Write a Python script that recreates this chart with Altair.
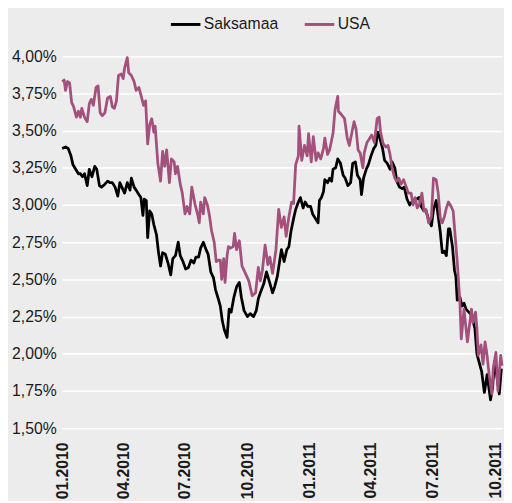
import altair as alt
import pandas as pd

# Days since 2010-01-01 and yields (%)
de_days = [0, 5, 9, 13, 16, 20, 24, 27, 30, 33, 37, 40, 44, 48, 51, 55, 58, 63, 67, 71,
           74, 78, 82, 85, 88, 92, 96, 100, 102, 106, 109, 113, 116, 119, 121, 124, 126, 129, 132, 135,
           139, 142, 145, 148, 152, 156, 160, 163, 167, 171, 174, 178, 182, 186, 190, 194, 197, 201, 204, 208,
           212, 215, 219, 223, 226, 230, 233, 236, 239, 243, 246, 249, 253, 257, 261, 264, 268, 273, 277, 282,
           286, 289, 292, 297, 301, 305, 310, 313, 317, 321, 323, 327, 331, 334, 337, 341, 344, 348, 351, 355,
           358, 362, 366, 369, 373, 377, 379, 382, 385, 387, 391, 394, 397, 399, 403, 406, 410, 414, 417, 421,
           425, 428, 432, 435, 439, 441, 444, 448, 451, 455, 459, 462, 465, 468, 472, 475, 479, 483, 486, 490,
           493, 497, 501, 504, 508, 512, 515, 519, 522, 526, 529, 533, 536, 540, 544, 547, 551, 553, 557, 560,
           563, 566, 569, 571, 575, 578, 580, 582, 586, 589, 592, 595, 599, 603, 608, 611, 615, 618, 622, 626,
           631, 634, 637, 640, 644, 647]
de_vals = [3.38, 3.39, 3.38, 3.33, 3.27, 3.24, 3.21, 3.21, 3.19, 3.21, 3.13, 3.24, 3.19, 3.26, 3.24, 3.13, 3.12, 3.14, 3.16, 3.15,
           3.15, 3.12, 3.06, 3.15, 3.12, 3.08, 3.15, 3.10, 3.18, 3.12, 3.10, 3.07, 3.05, 2.93, 3.04, 3.03, 2.78, 2.96, 2.94, 2.87,
           2.80, 2.68, 2.59, 2.68, 2.67, 2.61, 2.53, 2.64, 2.66, 2.75, 2.66, 2.62, 2.57, 2.58, 2.63, 2.61, 2.65, 2.65, 2.71, 2.75,
           2.70, 2.67, 2.55, 2.51, 2.43, 2.37, 2.32, 2.22, 2.16, 2.11, 2.30, 2.28, 2.38, 2.45, 2.48, 2.38, 2.29, 2.25, 2.27, 2.25,
           2.29, 2.37, 2.41, 2.47, 2.55, 2.49, 2.41, 2.45, 2.52, 2.64, 2.70, 2.62, 2.70, 2.72, 2.82, 2.91, 2.97, 3.02, 3.05, 2.98,
           3.02, 2.99, 2.99, 2.94, 2.91, 2.88, 3.03, 3.05, 3.09, 3.17, 3.15, 3.18, 3.16, 3.24, 3.25, 3.31, 3.28, 3.20, 3.18, 3.13,
           3.15, 3.28, 3.29, 3.20, 3.17, 3.07, 3.18, 3.24, 3.27, 3.33, 3.38, 3.40, 3.49, 3.45, 3.38, 3.30, 3.28, 3.24, 3.29, 3.25,
           3.16, 3.12, 3.11, 3.12, 3.04, 3.00, 3.02, 3.03, 3.04, 3.05, 2.99, 2.96, 2.96, 2.90, 2.86, 2.97, 3.03, 2.96, 2.82, 2.68,
           2.69, 2.66, 2.84, 2.84, 2.72, 2.56, 2.52, 2.36, 2.38, 2.32, 2.34, 2.30, 2.28, 2.26, 2.17, 2.00, 1.93, 1.88, 1.74, 1.86,
           1.69, 1.77, 1.95, 1.86, 1.73, 1.90]

us_days = [0, 3, 5, 8, 11, 14, 17, 21, 24, 27, 29, 33, 37, 40, 43, 46, 50, 53, 56, 59,
           63, 67, 71, 74, 77, 80, 83, 87, 90, 92, 96, 98, 102, 106, 109, 113, 116, 120, 123, 126,
           129, 132, 135, 137, 141, 145, 148, 151, 154, 158, 161, 165, 167, 170, 174, 177, 181, 184, 188, 191,
           196, 200, 202, 204, 208, 210, 214, 217, 220, 224, 227, 231, 233, 235, 238, 240, 243, 245, 248, 252,
           254, 257, 261, 265, 270, 275, 280, 285, 289, 292, 295, 299, 303, 306, 310, 315, 319, 323, 327, 330,
           334, 338, 341, 344, 348, 349, 353, 357, 361, 363, 367, 370, 374, 377, 381, 385, 387, 391, 394, 399,
           402, 406, 407, 411, 416, 420, 423, 427, 430, 433, 436, 439, 443, 445, 449, 452, 456, 460, 464, 467,
           469, 473, 477, 480, 483, 486, 490, 493, 496, 499, 503, 507, 510, 514, 517, 520, 523, 526, 530, 533,
           536, 540, 544, 547, 551, 554, 557, 560, 563, 566, 569, 573, 576, 579, 582, 586, 588, 592, 597, 600,
           603, 605, 609, 611, 613, 617, 620, 623, 626, 629, 633, 635, 639, 642, 646, 648]
us_vals = [3.83, 3.84, 3.77, 3.83, 3.82, 3.69, 3.66, 3.59, 3.63, 3.59, 3.65, 3.59, 3.56, 3.68, 3.71, 3.67, 3.79, 3.80, 3.62, 3.60,
           3.62, 3.72, 3.73, 3.66, 3.65, 3.70, 3.87, 3.88, 3.85, 3.92, 3.99, 3.89, 3.87, 3.83, 3.77, 3.79, 3.74, 3.67, 3.70, 3.41,
           3.54, 3.58, 3.49, 3.53, 3.28, 3.16, 3.36, 3.26, 3.37, 3.15, 3.31, 3.29, 3.21, 3.26, 3.14, 3.08, 2.94, 2.99, 2.94, 3.12,
           3.00, 2.93, 2.88, 3.02, 2.94, 3.05, 3.00, 2.93, 2.83, 2.75, 2.62, 2.63, 2.63, 2.50, 2.64, 2.48, 2.66, 2.72, 2.71, 2.72,
           2.81, 2.70, 2.76, 2.59, 2.54, 2.49, 2.39, 2.41, 2.58, 2.49, 2.56, 2.73, 2.60, 2.65, 2.54, 2.70, 2.97, 2.85, 2.92, 2.79,
           2.92, 3.02, 3.01, 3.27, 3.33, 3.53, 3.30, 3.40, 3.33, 3.48, 3.29, 3.46, 3.30, 3.35, 3.31, 3.38, 3.45, 3.34, 3.37, 3.48,
           3.64, 3.73, 3.63, 3.61, 3.58, 3.45, 3.40, 3.49, 3.56, 3.51, 3.37, 3.35, 3.25, 3.35, 3.42, 3.44, 3.47, 3.42, 3.58, 3.59,
           3.49, 3.41, 3.39, 3.40, 3.34, 3.25, 3.18, 3.16, 3.18, 3.14, 3.17, 3.12, 3.08, 3.08, 3.00, 3.05, 2.98, 3.00, 3.08, 2.96,
           2.97, 2.88, 2.92, 3.18, 3.17, 3.08, 2.91, 2.88, 2.92, 2.98, 3.02, 2.99, 2.96, 2.79, 2.62, 2.34, 2.10, 2.30, 2.08, 2.19,
           2.30, 2.21, 2.28, 2.17, 1.99, 2.06, 1.93, 2.08, 1.99, 1.86, 1.73, 1.90, 2.01, 1.75, 1.99, 1.92]

series_names = ["Saksamaa", "USA"]
series_colors = ["#000000", "#a4507d"]
y_ticks = [1.5, 1.75, 2.0, 2.25, 2.5, 2.75, 3.0, 3.25, 3.5, 3.75, 4.0]
x_ticks = ["2010-01-01", "2010-04-01", "2010-07-01", "2010-10-01",
           "2011-01-01", "2011-04-01", "2011-07-01", "2011-10-01"]

base = pd.Timestamp("2010-01-01")
rows = []
for name, days, vals in [("Saksamaa", de_days, de_vals), ("USA", us_days, us_vals)]:
    for d, v in zip(days, vals):
        rows.append({"date": (base + pd.Timedelta(days=d)).strftime("%Y-%m-%d"),
                     "value": v, "series": name})
df = pd.DataFrame(rows)

def dt(s):
    y, m, d = s.split("-")
    return alt.DateTime(year=int(y), month=int(m), date=int(d), utc=True)

FONT = "Liberation Sans"

chart = alt.Chart(df).mark_line(strokeWidth=2.8, strokeJoin="round").encode(
    x=alt.X("date:T",
            scale=alt.Scale(type="utc", domain=[dt("2010-01-01"), dt("2011-10-11")]),
            axis=alt.Axis(values=[dt(s) for s in x_ticks],
                          labelExpr="utcFormat(datum.value, '%m.%Y')",
                          labelAngle=270, labelAlign="right", labelBaseline="middle",
                          labelFontWeight="bold", labelFontSize=16, labelFont=FONT,
                          labelColor="#1a1a1a", labelPadding=14,
                          grid=False, ticks=False, domain=False, title=None)),
    y=alt.Y("value:Q",
            scale=alt.Scale(domain=[1.5, 4.0], nice=False, zero=False),
            axis=alt.Axis(values=y_ticks,
                          labelExpr="replace(format(datum.value, '.2f'), '.', ',') + '%'",
                          labelFontSize=16, labelFont=FONT, labelColor="#1a1a1a",
                          labelPadding=6, grid=True, gridColor="#ffffff", gridWidth=1.6,
                          ticks=False, domain=False, title=None)),
    color=alt.Color("series:N",
                    scale=alt.Scale(domain=series_names, range=series_colors),
                    legend=alt.Legend(title=None, orient="none", direction="horizontal",
                                      legendX=109, legendY=-49,
                                      symbolType="stroke", symbolSize=900,
                                      symbolStrokeWidth=3, labelFontSize=16,
                                      labelFont=FONT, labelColor="#1a1a1a",
                                      labelOffset=2, columnPadding=20)),
    order=alt.Order("date:T"),
).properties(
    width=447, height=378,
    autosize=alt.AutoSizeParams(type="none"),
    padding={"left": 55, "top": 45, "right": 2, "bottom": 70},
    background="#ebeceb",
).configure_view(stroke=None, fill="#ebeceb")

chart.save("out.html", embed_options={"renderer": "svg", "actions": False})
